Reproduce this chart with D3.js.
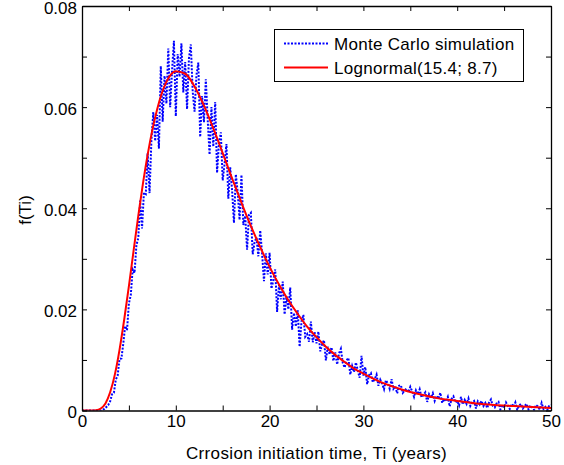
<!DOCTYPE html>
<html>
<head>
<meta charset="utf-8">
<script src="https://cdn.jsdelivr.net/npm/d3@7"></script>
<style>
  body { margin: 0; background: #fff; }
  text { font-family: Arial, "Liberation Sans", sans-serif; fill: #000; }
</style>
</head>
<body>
<svg id="chart"></svg>
<script>
// Monte Carlo histogram, one value per 0.2 year bin from 0 to 50
const mcStep = 0.2;
const mcDensity = [
  0, 0, 0, 0, 0, 0, 0, 0, 0, 0, 0,
  0.0002, 0.0003, 0.0007, 0.0011, 0.0018,
  0.0032, 0.0035, 0.0061, 0.0069, 0.0102,
  0.0103, 0.0132, 0.0167, 0.0159, 0.0212,
  0.0228, 0.0279, 0.0272, 0.0327, 0.0341,
  0.0415, 0.0360, 0.0431, 0.0428, 0.0509,
  0.0430, 0.0534, 0.0590, 0.0533, 0.0585,
  0.0518, 0.0681, 0.0571, 0.0662, 0.0607,
  0.0716, 0.0600, 0.0672, 0.0731, 0.0582,
  0.0705, 0.0660, 0.0726, 0.0629, 0.0689,
  0.0596, 0.0696, 0.0724, 0.0631, 0.0591,
  0.0663, 0.0688, 0.0541, 0.0622, 0.0570,
  0.0655, 0.0575, 0.0506, 0.0600, 0.0522,
  0.0610, 0.0470, 0.0528, 0.0550, 0.0455,
  0.0488, 0.0527, 0.0419, 0.0481, 0.0436,
  0.0371, 0.0467, 0.0432, 0.0377, 0.0466,
  0.0367, 0.0385, 0.0318, 0.0387, 0.0391,
  0.0309, 0.0333, 0.0342, 0.0305, 0.0356,
  0.0310, 0.0256, 0.0311, 0.0269, 0.0312,
  0.0241, 0.0258, 0.0279, 0.0195, 0.0248,
  0.0220, 0.0255, 0.0190, 0.0226, 0.0200,
  0.0243, 0.0160, 0.0193, 0.0166, 0.0198,
  0.0126, 0.0176, 0.0189, 0.0146, 0.0151,
  0.0136, 0.0176, 0.0135, 0.0155, 0.0133,
  0.0156, 0.0117, 0.0131, 0.0139, 0.0099,
  0.0126, 0.0111, 0.0125, 0.0098, 0.0115,
  0.0091, 0.0113, 0.0122, 0.0094, 0.0085,
  0.0099, 0.0104, 0.0071, 0.0088, 0.0076,
  0.0095, 0.0079, 0.0065, 0.0108, 0.0069,
  0.0086, 0.0052, 0.0070, 0.0074, 0.0056,
  0.0062, 0.0071, 0.0049, 0.0061, 0.0053,
  0.0042, 0.0060, 0.0054, 0.0043, 0.0062,
  0.0043, 0.0048, 0.0034, 0.0049, 0.0050,
  0.0035, 0.0040, 0.0043, 0.0036, 0.0047,
  0.0038, 0.0027, 0.0040, 0.0032, 0.0042,
  0.0026, 0.0031, 0.0036, 0.0017, 0.0032,
  0.0025, 0.0034, 0.0019, 0.0029, 0.0023,
  0.0035, 0.0015, 0.0023, 0.0018, 0.0027,
  0.0008, 0.0023, 0.0028, 0.0016, 0.0019,
  0.0010, 0.0027, 0.0012, 0.0021, 0.0013,
  0.0024, 0.0009, 0.0016, 0.0019, 0.0004,
  0.0018, 0.0012, 0.0019, 0.0009, 0.0015,
  0.0005, 0.0016, 0.0022, 0.0009, 0.0006,
  0.0014, 0.0017, 0.0002, 0.0011, 0.0006,
  0.0016, 0.0009, 0.0003, 0.0013, 0.0007,
  0.0016, 0.0001, 0.0010, 0.0013, 0.0004,
  0.0009, 0.0013, 0.0002, 0.0010, 0.0006,
  0.0001, 0.0011, 0.0008, 0.0002, 0.0015,
  0.0003, 0.0007, 0.0001, 0.0009, 0.0011
];

// fitted lognormal curve
const fitTime = [0, 1, 1.5, 2, 2.5, 3, 3.5, 4, 4.5, 5, 5.5, 6, 6.5, 7, 7.5, 8, 8.5, 9, 10,
  11, 12, 13, 14, 15, 16, 17, 18, 19, 20, 21, 22, 23, 24, 25, 26, 27, 28, 29, 30,
  32, 34, 36, 38, 40, 42, 44, 46, 48, 50];
const fitDensity = [0, 0, 0.00005, 0.0004, 0.0014, 0.0036, 0.0071, 0.0120, 0.0180, 0.0246,
  0.0316, 0.0385, 0.0449, 0.0506, 0.0555, 0.0595, 0.0627, 0.0650, 0.0671,
  0.0666, 0.0641, 0.0603, 0.0558, 0.0509, 0.0459, 0.0411, 0.0365, 0.0323, 0.0284,
  0.0249, 0.0218, 0.0191, 0.0166, 0.0145, 0.0126, 0.0110, 0.0096, 0.0083, 0.0073,
  0.0055, 0.0042, 0.0032, 0.0024, 0.0019, 0.0014, 0.0011, 0.0009, 0.0007, 0.0005];

const xTicks = [0, 5, 10, 15, 20, 25, 30, 35, 40, 45, 50];
const yTicks = [0, 0.01, 0.02, 0.03, 0.04, 0.05, 0.06, 0.07, 0.08];
const legendLabels = ["Monte Carlo simulation", "Lognormal(15.4; 8.7)"];

const width = 564, height = 465;
const margin = {top: 6, right: 13, bottom: 54.5, left: 82};
const innerW = width - margin.left - margin.right;
const innerH = height - margin.top - margin.bottom;

const svg = d3.select("#chart")
  .attr("width", width)
  .attr("height", height);

const g = svg.append("g")
  .attr("transform", "translate(" + margin.left + "," + margin.top + ")");

const x = d3.scaleLinear().domain([0, 50]).range([0, innerW]);
const y = d3.scaleLinear().domain([0, 0.08]).range([innerH, 0]);

g.append("clipPath").attr("id", "plotclip")
  .append("rect")
  .attr("x", 0).attr("y", -2)
  .attr("width", innerW).attr("height", innerH + 2);

const mcPoints = mcDensity.map((v, i) => [i * mcStep, v]);
const fitPoints = fitTime.map((t, i) => [t, fitDensity[i]]);

const mcLine = d3.line()
  .x(d => x(d[0]))
  .y(d => y(d[1]));

const fitLine = d3.line()
  .x(d => x(d[0]))
  .y(d => y(d[1]))
  .curve(d3.curveMonotoneX);

const plot = g.append("g").attr("clip-path", "url(#plotclip)");

plot.append("path")
  .datum(mcPoints)
  .attr("d", mcLine)
  .attr("fill", "none")
  .attr("stroke", "#0000ff")
  .attr("stroke-width", 2)
  .attr("stroke-dasharray", "2,1.5");

plot.append("path")
  .datum(fitPoints)
  .attr("d", fitLine)
  .attr("fill", "none")
  .attr("stroke", "#ff0000")
  .attr("stroke-width", 2);

// axes, ticks pointing inwards on all four sides
const fmtX = d => (d % 10 === 0 ? d : "");
const fmtY = d => {
  const k = Math.round(d * 100);
  if (k === 0) return "0";
  return k % 2 === 0 ? d3.format(".2f")(d) : "";
};

const xAxis = g.append("g")
  .attr("transform", "translate(0," + innerH + ")")
  .call(d3.axisBottom(x).tickValues(xTicks).tickSizeInner(-5).tickSizeOuter(0)
    .tickPadding(4).tickFormat(fmtX));

const xTop = g.append("g")
  .call(d3.axisTop(x).tickValues(xTicks).tickSizeInner(-5).tickSizeOuter(0).tickFormat(""));

const yAxis = g.append("g")
  .call(d3.axisLeft(y).tickValues(yTicks).tickSizeInner(-5).tickSizeOuter(0)
    .tickPadding(5).tickFormat(fmtY));

const yRight = g.append("g")
  .attr("transform", "translate(" + innerW + ",0)")
  .call(d3.axisRight(y).tickValues(yTicks).tickSizeInner(-5).tickSizeOuter(0).tickFormat(""));

[xAxis, xTop, yAxis, yRight].forEach(a => {
  a.selectAll(".domain").attr("stroke", "#000").attr("stroke-width", 1.3);
  a.selectAll(".tick line").attr("stroke", "#000").attr("stroke-width", 1);
  a.selectAll("text").style("font-size", "17px").attr("fill", "#000")
    .style("font-family", "Arial, 'Liberation Sans', sans-serif");
});
yAxis.selectAll("text").attr("dy", "0.42em");

// axis titles
svg.append("text")
  .attr("x", margin.left + innerW / 2)
  .attr("y", 459)
  .attr("text-anchor", "middle")
  .style("font-size", "17px")
  .style("letter-spacing", "0.35px")
  .text("Crrosion initiation time, Ti (years)");

svg.append("text")
  .attr("transform", "translate(31,210) rotate(-90)")
  .attr("text-anchor", "middle")
  .style("font-size", "17px")
  .text("f(Ti)");

// legend
const legend = svg.append("g");

legend.append("rect")
  .attr("x", 274.5).attr("y", 29.5)
  .attr("width", 249).attr("height", 52)
  .attr("fill", "#fff")
  .attr("stroke", "#000")
  .attr("stroke-width", 1);

const legendStyles = [
  {stroke: "#0000ff", dash: "2,1.5", w: 2},
  {stroke: "#ff0000", dash: null, w: 2}
];

legendLabels.forEach((label, i) => {
  const ly = 43.5 + i * 24;
  legend.append("line")
    .attr("x1", 284).attr("x2", 328)
    .attr("y1", ly).attr("y2", ly)
    .attr("stroke", legendStyles[i].stroke)
    .attr("stroke-width", legendStyles[i].w)
    .attr("stroke-dasharray", legendStyles[i].dash);
  legend.append("text")
    .attr("x", 334).attr("y", ly)
    .attr("dy", "0.36em")
    .style("font-size", "17px")
    .style("letter-spacing", "0.3px")
    .text(label);
});
</script>
</body>
</html>
